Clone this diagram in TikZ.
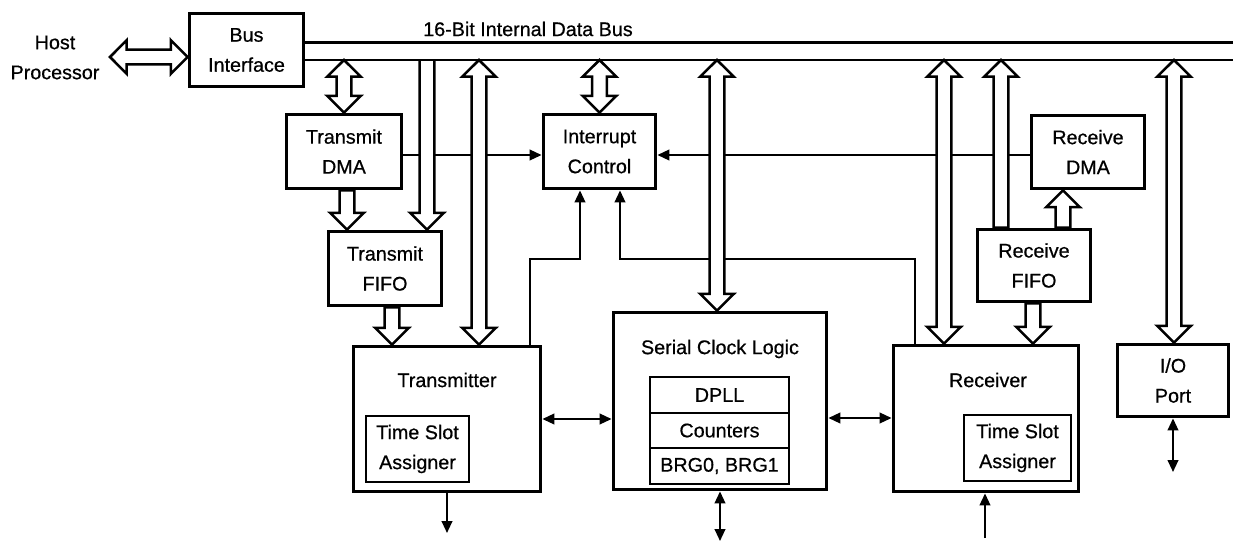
\documentclass[tikz,border=0pt]{standalone}
\usepackage{fontspec}
\setmainfont{Liberation Sans}[FakeBold=0.6]
\usetikzlibrary{arrows.meta,calc}
\newcommand\fs{\fontsize{14.8pt}{22.5pt}\selectfont}
\def\u{0.75pt}
\def\hs{5.6pt}\def\hw{12.6pt}\def\hl{12.5pt}
% double-headed vertical hollow arrow, #1 top tip, #2 bottom tip
\newcommand\hvd[2]{\draw[hollow] let \p1=(#1), \p2=(#2) in
  (\x1,\y1) -- (\x1+\hw,\y1-\hl) -- (\x1+\hs,\y1-\hl) -- (\x1+\hs,\y2+\hl) -- (\x1+\hw,\y2+\hl)
  -- (\x1,\y2) -- (\x1-\hw,\y2+\hl) -- (\x1-\hs,\y2+\hl) -- (\x1-\hs,\y1-\hl) -- (\x1-\hw,\y1-\hl) -- cycle;}
% head at bottom only, #1 top (flat), #2 bottom tip
\newcommand\hvdown[2]{\draw[hollow] let \p1=(#1), \p2=(#2) in
  (\x1-\hs,\y1) -- (\x1-\hs,\y2+\hl) -- (\x1-\hw,\y2+\hl) -- (\x1,\y2) -- (\x1+\hw,\y2+\hl)
  -- (\x1+\hs,\y2+\hl) -- (\x1+\hs,\y1) -- cycle;}
% head at bottom only, open top
\newcommand\hvdownopen[2]{\draw[hollow] let \p1=(#1), \p2=(#2) in
  (\x1-\hs,\y1) -- (\x1-\hs,\y2+\hl) -- (\x1-\hw,\y2+\hl) -- (\x1,\y2) -- (\x1+\hw,\y2+\hl)
  -- (\x1+\hs,\y2+\hl) -- (\x1+\hs,\y1);}
% head at top only, #1 top tip, #2 bottom (flat)
\newcommand\hvup[2]{\draw[hollow] let \p1=(#1), \p2=(#2) in
  (\x1,\y1) -- (\x1+\hw,\y1-\hl) -- (\x1+\hs,\y1-\hl) -- (\x1+\hs,\y2) -- (\x1-\hs,\y2)
  -- (\x1-\hs,\y1-\hl) -- (\x1-\hw,\y1-\hl) -- cycle;}
% horizontal double-headed, #1 left tip, #2 right tip
\newcommand\hhd[2]{\draw[hollow] let \p1=(#1), \p2=(#2) in
  (\x1,\y1) -- (\x1+\hl,\y1+\hw) -- (\x1+\hl,\y1+\hs) -- (\x2-\hl,\y1+\hs) -- (\x2-\hl,\y1+\hw)
  -- (\x2,\y1) -- (\x2-\hl,\y1-\hw) -- (\x2-\hl,\y1-\hs) -- (\x1+\hl,\y1-\hs) -- (\x1+\hl,\y1-\hw) -- cycle;}
\begin{document}
\begin{tikzpicture}[x=0.75pt,y=-0.75pt,
  box/.style={draw, line width=2.9pt, inner sep=0pt, align=center, font=\fs},
  inbox/.style={draw, line width=1.7pt, inner sep=0pt, align=center, font=\fs},
  lbl/.style={inner sep=0pt, align=center, font=\fs},
  conn/.style={line width=1.5pt},
  tip/.tip={Triangle[length=9pt,width=8pt]},
  hollow/.style={draw, fill=white, line width=1.9pt, line join=miter},
  busline/.style={line width=1.6pt}]
\useasboundingbox (0,0) rectangle (1233,543);

% boxes
\node[lbl] (host) at (55,57.5) {Host\\Processor};
\node[box, minimum width=114*\u, minimum height=73*\u] (bi) at (246.5,50) {Bus\\Interface};
\node[lbl] (bustext) at (528,29) {16-Bit Internal Data Bus};
\node[box, minimum width=115*\u, minimum height=74*\u] (tdma) at (344,151.5) {Transmit\\DMA};
\node[box, minimum width=113*\u, minimum height=74*\u] (tfifo) at (385,268.5) {Transmit\\FIFO};
\node[box, minimum width=112*\u, minimum height=74*\u] (ic) at (599.5,151.5) {Interrupt\\Control};
\node[box, minimum width=113*\u, minimum height=73*\u] (rdma) at (1088,152) {Receive\\DMA};
\node[box, minimum width=113*\u, minimum height=72*\u] (rfifo) at (1034,265.5) {Receive\\FIFO};

\node[box, minimum width=187*\u, minimum height=145*\u] (tx) at (447,419) {};
\node[lbl] (txl) at (447,380) {Transmitter};
\node[inbox, minimum width=103*\u, minimum height=66*\u] (ttsa) at (417.5,449) {Time Slot\\Assigner};

\node[box, minimum width=213*\u, minimum height=177*\u] (scl) at (720,401) {};
\node[lbl] (scll) at (720,349) {Serial Clock Logic};
\node[inbox, minimum width=139*\u, minimum height=36*\u, outer sep=0pt] (dpll) at (719.5,395) {DPLL};
\node[inbox, minimum width=139*\u, minimum height=35*\u, outer sep=0pt] (cnt) at (719.5,430.5) {Counters};
\node[inbox, minimum width=139*\u, minimum height=36*\u, outer sep=0pt] (brg) at (719.5,466) {BRG0, BRG1};

\node[box, minimum width=185*\u, minimum height=146*\u] (rx) at (986,418.5) {};
\node[lbl] (rxl) at (988,380) {Receiver};
\node[inbox, minimum width=107*\u, minimum height=66*\u] (rtsa) at (1017.5,448) {Time Slot\\Assigner};

\node[box, minimum width=111*\u, minimum height=72*\u] (io) at (1173,380.5) {I/O\\Port};

% free ends
\coordinate (busb) at (305,60);
\coordinate (hostarr) at (110,57);
\coordinate (txout) at (447,533);
\coordinate (sclio) at (720,541);
\coordinate (rxin) at (985,538);
\coordinate (ioio) at (1173,472);
\coordinate (busendt) at (1233,42.5);
\coordinate (busendb) at (1233,60);

% thin connectors
\draw[conn,-tip] (tdma.east |- 0,155) -- (ic.west |- 0,155);
\draw[conn,-tip] (rdma.west |- 0,155) -- (ic.east |- 0,155);
\draw[conn,-tip] (530,0 |- tx.north) |- (580,259) -- (580,0 |- ic.south);
\draw[conn,-tip] (915,0 |- rx.north) |- (620,259) -- (620,0 |- ic.south);
\draw[conn,tip-tip] (tx.east |- 0,419) -- (scl.west |- 0,419);
\draw[conn,tip-tip] (scl.east |- 0,418) -- (rx.west |- 0,418);
\draw[conn,-tip] (tx.south) -- (txout);
\draw[conn,tip-tip] (scl.south) -- (sclio);
\draw[conn,-tip] (rxin) -- (985,0 |- rx.south);
\draw[conn,tip-tip] (io.south) -- (ioio);

% hollow (bus) arrows
\hhd{hostarr}{bi.west |- hostarr}
\hvd{tdma.north |- busb}{tdma.north}
\hvdownopen{427,0 |- busb}{427,0 |- tfifo.north}
\hvd{479,0 |- busb}{479,0 |- tx.north}
\hvd{ic.north |- busb}{ic.north}
\hvd{717,0 |- busb}{717,0 |- scl.north}
\hvd{944,0 |- busb}{944,0 |- rx.north}
\hvup{1001,0 |- busb}{1001,0 |- rfifo.north}
\hvd{1174,0 |- busb}{1174,0 |- io.north}
\hvdown{347,0 |- tdma.south}{347,0 |- tfifo.north}
\hvdown{392,0 |- tfifo.south}{392,0 |- tx.north}
\hvdown{1033,0 |- rfifo.south}{1033,0 |- rx.north}
\hvup{1063,0 |- rdma.south}{1063,0 |- rfifo.north}

% bus lines
\draw[busline] (bi.east |- busendt) -- (busendt);
\draw[busline] (bi.east |- busb) -- (busendb);
\end{tikzpicture}
\end{document}
